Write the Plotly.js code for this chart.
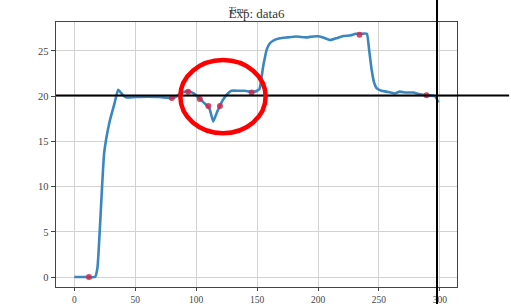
<!DOCTYPE html>
<html><head><meta charset="utf-8">
<script src="https://cdn.plot.ly/plotly-3.0.1.min.js"></script>
<style>html,body{margin:0;padding:0;background:#fff}#chart{width:511px;height:304px}</style>
</head><body><div id="chart"></div>
<script>
const timeX = [0, 5, 10, 17, 19, 24.5, 29, 33, 36, 40, 43, 50, 60, 70, 80, 83, 87, 91, 95, 98, 103, 108.5, 111, 114, 117, 122, 126, 129, 135, 140, 144, 148, 150, 152, 155, 158, 160.5, 164, 168.7, 175, 182, 190, 196, 201.5, 206, 210, 215, 220.7, 226, 231, 235, 240, 242, 244, 246, 248, 252, 256, 263, 267, 272, 278, 284, 289, 296, 298.7];
const seriesY = [0, 0, 0, 0, 1, 13.7, 17.2, 19.2, 20.7, 20.1, 19.85, 19.9, 19.95, 19.9, 19.8, 19.9, 20.3, 20.5, 20.5, 20.3, 19.7, 19.0, 18.6, 17.2, 18.2, 19.6, 20.3, 20.6, 20.6, 20.6, 20.5, 20.5, 20.6, 20.8, 23.3, 25.2, 25.85, 26.2, 26.4, 26.5, 26.6, 26.5, 26.6, 26.6, 26.4, 26.2, 26.4, 26.65, 26.7, 26.9, 26.9, 26.9, 25, 22.9, 21.5, 20.9, 20.6, 20.5, 20.3, 20.5, 20.4, 20.4, 20.2, 20.1, 20.0, 19.3];
const markX = [12, 80, 93.4, 103, 110, 119.5, 145.5, 234, 289];
const markY = [0, 19.8, 20.5, 19.7, 18.9, 18.9, 20.4, 26.8, 20.1];
const xTicks = [0, 50, 100, 150, 200, 250, 300];
const yTicks = [0, 5, 10, 15, 20, 25];
const titleText = "Exp: data6";
const subText = "Time";

const serif = "Liberation Serif, DejaVu Serif, serif";
const traces = [
  {x: timeX, y: seriesY, type: "scatter", mode: "lines", line: {color: "#3a87c0", width: 2.6, shape: "spline", smoothing: 0.4}, hoverinfo: "skip"},
  {x: markX, y: markY, type: "scatter", mode: "markers", marker: {color: "#d0284a", size: 6, opacity: 0.85}, hoverinfo: "skip"}
];
const layout = {
  width: 511, height: 304,
  margin: {l: 56, r: 54, t: 22, b: 17},
  paper_bgcolor: "#fff", plot_bgcolor: "#fff",
  showlegend: false,
  title: {text: titleText, font: {family: serif, size: 13, color: "#333"}, x: 0.5, xanchor: "center", y: 0.955, yanchor: "middle", xref: "paper"},
  xaxis: {range: [-15, 314], tickvals: xTicks, ticktext: xTicks.map(String), showgrid: true, gridcolor: "#d2d2d2", gridwidth: 1,
    showline: true, linecolor: "#444", linewidth: 1.3, mirror: true, ticks: "outside", ticklen: 3, tickcolor: "#444",
    tickfont: {family: serif, size: 9.5, color: "#444"}, zeroline: false, automargin: false},
  yaxis: {range: [-1.1, 28.2], tickvals: yTicks, ticktext: yTicks.map(String), showgrid: true, gridcolor: "#d2d2d2", gridwidth: 1,
    showline: true, linecolor: "#444", linewidth: 1.3, mirror: true, ticks: "outside", ticklen: 4, tickcolor: "#444",
    tickfont: {family: serif, size: 10.5, color: "#444"}, zeroline: false, automargin: false},
  annotations: [
    {text: subText, xref: "paper", yref: "paper", x: 0.455, y: 1.07, showarrow: false, font: {family: serif, size: 9, color: "#333"}}
  ],
  shapes: [
    {type: "line", xref: "paper", yref: "y", x0: 0, x1: 1.13, y0: 20.07, y1: 20.07, line: {color: "#000", width: 2}},
    {type: "line", xref: "x", yref: "paper", x0: 297.6, x1: 297.6, y0: -0.07, y1: 1.09, line: {color: "#000", width: 2}},
    {type: "circle", xref: "x", yref: "y", x0: 87, x1: 157, y0: 15.9, y1: 24.0, line: {color: "#f00", width: 4.5}}
  ]
};
Plotly.newPlot("chart", traces, layout, {staticPlot: true, displayModeBar: false});
</script></body></html>
